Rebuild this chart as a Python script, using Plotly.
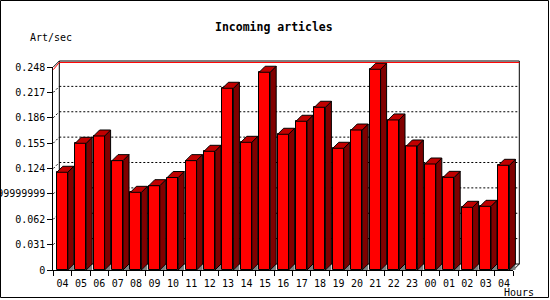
import plotly.graph_objects as go

# ---- data ----
hours = ["04", "05", "06", "07", "08", "09", "10", "11", "12", "13", "14", "15", "16",
         "17", "18", "19", "20", "21", "22", "23", "00", "01", "02", "03", "04"]
rates = [0.1194, 0.1548, 0.1637, 0.1336, 0.0949, 0.1030, 0.1130, 0.1336, 0.1450,
         0.2220, 0.1560, 0.2416, 0.1658, 0.1817, 0.1988, 0.1487, 0.1710, 0.2452,
         0.1833, 0.1515, 0.1295, 0.1132, 0.0766, 0.0778, 0.1279]
ytick_vals = [0, 0.031, 0.062, 0.093, 0.124, 0.155, 0.186, 0.217, 0.248]
ytick_text = ["0", "0.031", "0.062", "0.09299999999999999", "0.124", "0.155",
              "0.186", "0.217", "0.248"]
grid_vals = ytick_vals[1:-1]
y_max = 0.248
max_line = 0.2462
title = "Incoming articles"
y_title = "Art/sec"
x_title = "Hours"

# ---- geometry (pixels) ----
W, H = 550, 300
X0PX = 53.3      # front axis left
SLOT = 18.4      # px per category
Y0PX = 270.0     # value 0
YPX = 203.0 / y_max  # px per unit
DEPTH = 6.0
FRONT_OFF = 3.5
FRONT_W = 11.0

n = len(rates)
dx = DEPTH / SLOT
dy = DEPTH / YPX
xmin = (0 - X0PX) / SLOT - 0.5
xmax = (W - X0PX) / SLOT - 0.5
ymin = -(H - Y0PX) / YPX
ymax = Y0PX / YPX

FONT = "DejaVu Sans Mono"
RED, TOPC, SIDEC, SHADOW = "#ff0000", "#c00000", "#800000", "#808080"

left_edges = [i - 0.5 + FRONT_OFF / SLOT for i in range(n)]
bw = FRONT_W / SLOT
centers = [l + bw / 2 for l in left_edges]

shapes = []
# back wall gridlines
for v in grid_vals:
    shapes.append(dict(type="line", xref="x", yref="y", layer="below",
                       x0=-0.5 + dx, x1=n - 0.5 + dx, y0=v + dy, y1=v + dy,
                       line=dict(color="black", width=1, dash="2px,2px")))
    shapes.append(dict(type="line", xref="x", yref="y", layer="below",
                       x0=-0.5, x1=-0.5 + dx, y0=v, y1=v + dy,
                       line=dict(color="black", width=1, dash="2px,2px")))
# back wall frame
shapes.append(dict(type="rect", xref="x", yref="y", layer="below",
                   x0=-0.5 + dx, x1=n - 0.5 + dx, y0=dy, y1=y_max + dy,
                   line=dict(color="black", width=1)))
# side wall top edge and floor right edge
shapes.append(dict(type="line", xref="x", yref="y", layer="below",
                   x0=-0.5, x1=-0.5 + dx, y0=y_max, y1=y_max + dy,
                   line=dict(color="black", width=1)))
shapes.append(dict(type="line", xref="x", yref="y", layer="below",
                   x0=n - 0.5, x1=n - 0.5 + dx, y0=0, y1=dy,
                   line=dict(color="black", width=1)))
# red max line
shapes.append(dict(type="path", xref="x", yref="y", layer="below",
                   path=f"M{-0.5},{max_line - 1.2/YPX} L{-0.5 + dx},{max_line + dy} L{n - 0.5 + dx},{max_line + dy}",
                   line=dict(color=RED, width=1)))

# 3D faces
for l, v in zip(left_edges, rates):
    r = l + bw
    shapes.append(dict(type="path", xref="x", yref="y", layer="above",
                       path=f"M{r},0 L{r + dx},{dy} L{r + dx},0 Z",
                       fillcolor=SHADOW, line=dict(width=0)))
    shapes.append(dict(type="path", xref="x", yref="y", layer="above",
                       path=f"M{r},{v} L{r + dx},{v + dy} L{r + dx},{dy} L{r},0 Z",
                       fillcolor=SIDEC, line=dict(color="black", width=1)))
    shapes.append(dict(type="path", xref="x", yref="y", layer="above",
                       path=f"M{l},{v} L{l + dx},{v + dy} L{r + dx},{v + dy} L{r},{v} Z",
                       fillcolor=TOPC, line=dict(color="black", width=1)))

# outer border
shapes.append(dict(type="rect", xref="paper", yref="paper",
                   x0=0.5 / W, x1=548.5 / W, y0=1 - 297.5 / H, y1=1 - 0.5 / H,
                   line=dict(color="black", width=1)))

fig = go.Figure()
fig.add_trace(go.Bar(x=centers, y=rates, width=bw, marker=dict(color=RED, line=dict(color="black", width=1)),
                     showlegend=False, hoverinfo="skip"))
fig.add_trace(go.Scatter(x=[], y=[], xaxis="x2", yaxis="y2", showlegend=False))

annotations = [
    dict(text=f"<b>{title}</b>", x=274 / W, y=1 - 26.7 / H, xref="paper", yref="paper",
         showarrow=False, xanchor="center", yanchor="middle", font=dict(family=FONT, size=11.5, color="black")),
    dict(text=y_title, x=50.5 / W, y=1 - 37.3 / H, xref="paper", yref="paper",
         showarrow=False, xanchor="center", yanchor="middle", font=dict(family=FONT, size=10, color="black")),
    dict(text=x_title, x=518.5 / W, y=1 - 292.5 / H, xref="paper", yref="paper",
         showarrow=False, xanchor="center", yanchor="middle", font=dict(family=FONT, size=10, color="black")),
]

fig.update_layout(
    width=W, height=H, margin=dict(l=0, r=0, t=0, b=0),
    paper_bgcolor="white", plot_bgcolor="rgba(0,0,0,0)",
    showlegend=False, hovermode=False, bargap=0,
    shapes=shapes, annotations=annotations,
    xaxis=dict(range=[xmin, xmax], domain=[0, 1], visible=False, fixedrange=True),
    yaxis=dict(range=[ymin, ymax], domain=[0, 1], visible=False, fixedrange=True),
    xaxis2=dict(range=[-0.5, n - 0.5], domain=[X0PX / W, (X0PX + n * SLOT) / W], anchor="y2",
                showline=True, linecolor="black", linewidth=1, showgrid=False, zeroline=False,
                ticks="", tickmode="array", tickvals=list(range(n)), ticktext=hours,
                ticklabelstandoff=4,
                tickfont=dict(family=FONT, size=10, color="black"),
                minor=dict(tickmode="array", tickvals=[i - 0.5 for i in range(n + 1)],
                           ticks="outside", ticklen=5, tickcolor="black", showgrid=False),
                fixedrange=True, automargin=False),
    yaxis2=dict(range=[0, y_max], domain=[(H - Y0PX) / H, (H - Y0PX + y_max * YPX) / H], anchor="x2",
                showline=True, linecolor="black", linewidth=1, showgrid=False, zeroline=False,
                ticks="outside", ticklen=5, tickcolor="black",
                tickmode="array", tickvals=ytick_vals, ticktext=ytick_text,
                tickfont=dict(family=FONT, size=10, color="black"),
                fixedrange=True, automargin=False),
)

fig.write_html("out.html")
